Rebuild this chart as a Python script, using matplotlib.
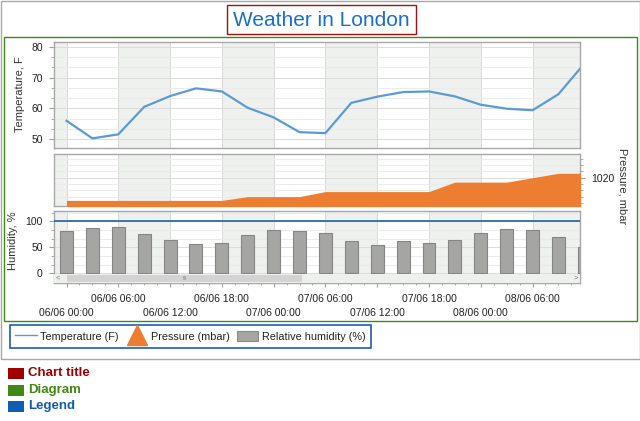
import matplotlib
matplotlib.use("Agg")
import matplotlib.pyplot as plt
import matplotlib.patches as mpatches
import matplotlib.ticker as ticker
from matplotlib.lines import Line2D
import numpy as np

plt.rcParams["font.family"] = ["Liberation Sans", "DejaVu Sans"]

# data: one reading every 3 hours from 06/06 00:00
hours = [0, 3, 6, 9, 12, 15, 18, 21, 24, 27, 30, 33, 36, 39, 42, 45, 48, 51, 54, 57, 60]
temperature = [56.0, 50.3, 51.6, 60.5, 64.0, 66.5, 65.5, 60.2, 57.1, 52.3, 52.0,
               61.8, 63.8, 65.3, 65.5, 63.9, 61.2, 59.9, 59.4, 64.6, 74.5]
pressure = [1016.4, 1016.4, 1016.4, 1016.4, 1016.4, 1016.4, 1016.4, 1017.0, 1017.0, 1017.0, 1017.8,
            1017.8, 1017.8, 1017.8, 1017.8, 1019.3, 1019.3, 1019.3, 1020.0, 1020.7, 1020.7]
humidity = [81, 88, 90, 75, 65, 56, 58, 73, 83, 81, 77, 63, 54, 63, 58, 65, 77, 86, 83, 69, 50]

tick_hours = [0, 6, 12, 18, 24, 30, 36, 42, 48, 54]
tick_labels = ["06/06 00:00", "06/06 06:00", "06/06 12:00", "06/06 18:00", "07/06 00:00",
               "07/06 06:00", "07/06 12:00", "07/06 18:00", "08/06 00:00", "08/06 06:00"]
band_starts = [-6, 6, 18, 30, 42, 54]

X_RANGE = (-1.45, 59.5)
TEMP_C = "#5b9bd5"
PRES_C = "#ed7d31"
HUM_C = "#a5a6a4"
BAND_C = "#eff1ef"
SPINE_C = "#a8a8a8"
TEXT_C = "#222222"

W, H = 640, 421


def fx(x):
    return x / W


def fy(y):
    return 1 - y / H


def rect(left, top, right, bottom):
    return [fx(left), fy(bottom), (right - left) / W, (bottom - top) / H]


def box(left, top, right, bottom, color, lw=1.0, fill=False):
    r = mpatches.Rectangle((fx(left), fy(bottom)), (right - left) / W, (bottom - top) / H,
                           transform=fig.transFigure, fill=fill, ec=None if fill else color,
                           fc=color if fill else "none", lw=0 if fill else lw)
    fig.add_artist(r)


def style_panel(ax):
    ax.set_xlim(*X_RANGE)
    for s in band_starts:
        ax.axvspan(s, s + 6, color=BAND_C, lw=0, zorder=0)
    for sp in ax.spines.values():
        sp.set_color(SPINE_C)
        sp.set_linewidth(1.0)
    ax.set_axisbelow(True)
    ax.xaxis.set_major_locator(ticker.FixedLocator(tick_hours))
    ax.xaxis.set_minor_locator(ticker.MultipleLocator(1.5))
    ax.grid(axis="x", which="major", color="#d9d9d9", lw=0.75, ls="-")
    ax.grid(axis="y", which="major", color="#dcdcdc", lw=0.75, ls="-")
    ax.grid(axis="y", which="minor", color="#ebebeb", lw=0.75, ls="-")
    ax.tick_params(axis="x", which="both", bottom=False, labelbottom=False)
    ax.tick_params(axis="y", which="both", color="#a0a0a0", labelsize=7.5,
                   labelcolor=TEXT_C, pad=4.5)
    ax.tick_params(axis="y", which="major", length=3.6)
    ax.tick_params(axis="y", which="minor", length=2.5)


fig = plt.figure(figsize=(6.4, 4.21), dpi=100)

# temperature
ax_t = fig.add_axes(rect(54, 41.5, 580, 147.5))
style_panel(ax_t)
ax_t.plot(hours, temperature, color=TEMP_C, lw=1.6, zorder=3)
ax_t.set_ylim(47.34, 81.68)
ax_t.yaxis.set_major_locator(ticker.MultipleLocator(10))
ax_t.yaxis.set_minor_locator(ticker.MultipleLocator(10 / 3))
ax_t.set_ylabel("Temperature, F", fontsize=8, color="#333333", va="center")
ax_t.yaxis.set_label_coords((20 - 54) / 526, 0.5)

# pressure
ax_p = fig.add_axes(rect(54, 154, 580, 205.7))
style_panel(ax_p)
ax_p.fill_between(hours, pressure, 1000, color=PRES_C, lw=0, zorder=3)
ax_p.set_ylim(1015.56, 1023.76)
ax_p.yaxis.tick_right()
ax_p.yaxis.set_major_locator(ticker.MultipleLocator(5))
ax_p.yaxis.set_minor_locator(ticker.MultipleLocator(1))
ax_p.yaxis.set_label_position("right")
ax_p.set_ylabel("Pressure, mbar", fontsize=8, color="#333333", rotation=270, va="center")
ax_p.yaxis.set_label_coords((623 - 54) / 526, 0.38)

# humidity
ax_h = fig.add_axes(rect(54, 210.7, 580, 283))
style_panel(ax_h)
ax_h.bar(hours, humidity, width=1.5, color=HUM_C, edgecolor="#858585", lw=0.8, zorder=2)
ax_h.axhline(100, color="#1f5fa8", lw=1.2, zorder=3)
ax_h.set_ylim(-18.65, 120.4)
ax_h.yaxis.set_major_locator(ticker.MultipleLocator(50))
ax_h.set_yticks(np.arange(0, 121, 50 / 3), minor=True)
ax_h.set_ylabel("Humidity, %", fontsize=8, color="#333333", va="center")
ax_h.yaxis.set_label_coords((13 - 54) / 526, 0.58)

ax_h.tick_params(axis="x", which="both", bottom=True, color="#a0a0a0")
ax_h.tick_params(axis="x", which="major", length=3.2, labelbottom=True, labelsize=7.5,
                 labelcolor=TEXT_C, pad=4.5)
ax_h.tick_params(axis="x", which="minor", length=1.5)
ax_h.set_xticklabels([lab if i % 2 else "\n" + lab for i, lab in enumerate(tick_labels)])
for t in ax_h.get_xticklabels():
    t.set_linespacing(1.6)

# scrollbar under the humidity bars
sb_h = (283 - 273.6) / 72.3
ax_h.add_patch(mpatches.Rectangle((0, 0), 1, sb_h, transform=ax_h.transAxes,
                                  fc="#eef0ee", ec="none", zorder=5))
ax_h.add_patch(mpatches.Rectangle((0.0238, 0.012), 0.448, 0.1, transform=ax_h.transAxes,
                                  fc="#d3d3d3", ec="none", zorder=6))
ax_h.text(0.008, sb_h / 2, "<", transform=ax_h.transAxes, fontsize=5.5, color="#777777",
          ha="center", va="center", zorder=7)
ax_h.text(0.992, sb_h / 2, ">", transform=ax_h.transAxes, fontsize=5.5, color="#777777",
          ha="center", va="center", zorder=7)
ax_h.text(0.249, sb_h / 2, "III", transform=ax_h.transAxes, fontsize=4, color="#8a8a8a",
          ha="center", va="center", zorder=7)

# title
fig.text(fx(321), fy(20), "Weather in London", ha="center", va="center",
         fontsize=15, color="#1a6fc9")

# legend
handles = [Line2D([], [], color=TEMP_C, lw=1.0),
           Line2D([], [], color=PRES_C, marker="^", ms=14, lw=0),
           mpatches.Patch(fc=HUM_C, ec="#8a8a8a", lw=0.8)]
labels = ["Temperature (F)", "Pressure (mbar)", "Relative humidity (%)"]
leg = fig.legend(handles, labels, loc="upper left", bbox_to_anchor=(fx(9.5), fy(325)),
                 bbox_transform=fig.transFigure, ncol=3, fontsize=7.8, borderaxespad=0,
                 handlelength=2.0, handleheight=1.1, handletextpad=0.3, columnspacing=0.65,
                 borderpad=0.55, fancybox=False, framealpha=1, edgecolor="#1a5fb4")
leg.get_frame().set_linewidth(1.2)
for t in leg.get_texts():
    t.set_color(TEXT_C)

fig.canvas.draw()
lb = leg.get_window_extent()
fig.add_artist(mpatches.Rectangle((lb.x0 + 2.5, lb.y0 + 2.5), lb.width - 5, lb.height - 5,
                                  transform=None, fill=False, ec="#b0b0b0", lw=0.8))

# frames around the chart parts
box(0.5, 0.5, 639.5, 359, "#a8a8a8")
box(3.5, 37, 636.5, 320.5, "#3f8a10")
box(226.5, 5.3, 415.5, 34.3, "#a01010")

# colour key under the chart
key = [("Chart title", "#a00000", 373.5), ("Diagram", "#3f8a10", 390), ("Legend", "#0f5db0", 406)]
for name, c, yc in key:
    box(8, yc - 5.5, 24, yc + 5.5, c, fill=True)
    fig.text(fx(28), fy(yc), name, color=c, fontsize=9.5, fontweight="bold", va="center")

fig.savefig("out.png", dpi=100)
